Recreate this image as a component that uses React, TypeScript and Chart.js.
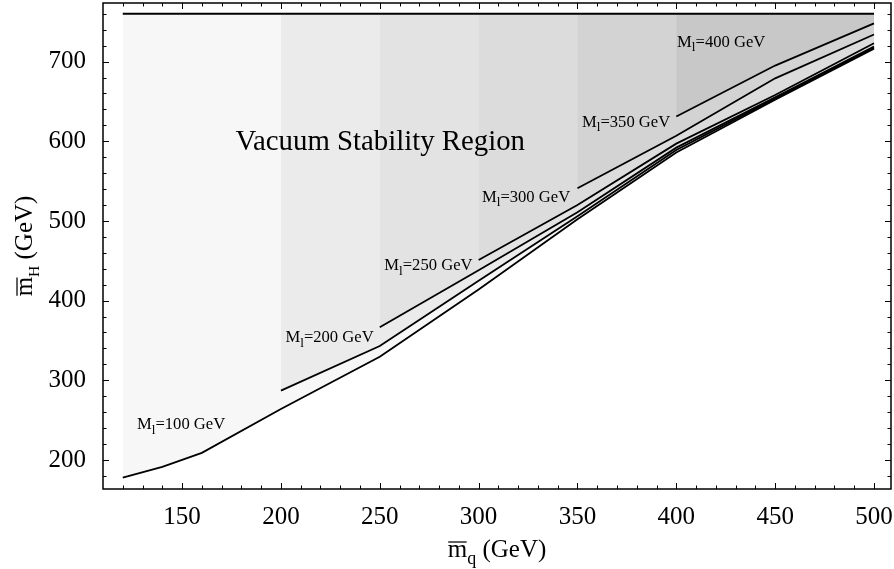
import React, { useEffect, useRef } from "react";
import { Chart, registerables } from "chart.js";

Chart.register(...registerables);

// ---------- data ----------
const X_MIN = 110;
const X_MAX = 508.6;
const Y_MIN = 163.6;
const Y_MAX = 773.5;

const X_TICKS = [150, 200, 250, 300, 350, 400, 450, 500];
const Y_TICKS = [200, 300, 400, 500, 600, 700];

// upper boundary of the region
const TOP_MQ = [120, 500];
const TOP_MH = [760, 760];

// lowest boundary curve
const MQ_LOW = [120, 140, 160, 200, 250, 300, 350, 400, 450, 500];
const MH_LOW = [178, 191.5, 209, 264, 329.5, 414, 502, 586, 652, 716];

// curves starting at 200, 250, 300, 350, 400 GeV
const MQ_200 = [200, 250, 300, 350, 400, 450, 500];
const MH_200 = [287, 343, 425, 506, 589, 653.5, 717.5];

const MQ_250 = [250, 300, 350, 400, 450, 500];
const MH_250 = [366.5, 438, 511, 592, 655, 719];

const MQ_300 = [300, 350, 400, 450, 500];
const MH_300 = [451, 520, 597, 658, 723];

const MQ_350 = [350, 400, 450, 500];
const MH_350 = [541, 607, 679, 734];

const MQ_400 = [400, 450, 500];
const MH_400 = [631, 695, 748];

const SHADES = ["#f7f7f7", "#ebebeb", "#e3e3e3", "#dcdcdc", "#d3d3d3", "#c8c8c8"];

// text annotations: [label mass, anchor mq, anchor mH (baseline)]
const LABEL_MASSES = ["100", "200", "250", "300", "350", "400"];
const LABEL_MQ = [127.2, 202.3, 252.3, 301.7, 352.3, 400.4];
const LABEL_MH = [238.3, 348, 438.4, 524, 618.2, 718.6];

const REGION_TEXT = "Vacuum Stability Region";
const REGION_MQ = 177;
const REGION_MH = 589;

const FAMILY = '"Liberation Serif", "Times New Roman", serif';

type Seg = { t: string; sub?: boolean; bar?: boolean };

function drawRich(
  ctx: CanvasRenderingContext2D,
  segs: Seg[],
  x: number,
  y: number,
  size: number,
  align: "left" | "center",
  subScale = 0.72
) {
  const widths = segs.map((s) => {
    ctx.font = `${s.sub ? size * subScale : size}px ${FAMILY}`;
    return ctx.measureText(s.t).width;
  });
  const total = widths.reduce((a, b) => a + b, 0);
  let cx = align === "center" ? x - total / 2 : x;
  ctx.textAlign = "left";
  ctx.textBaseline = "alphabetic";
  segs.forEach((s, i) => {
    ctx.font = `${s.sub ? size * subScale : size}px ${FAMILY}`;
    const dy = s.sub ? size * 0.27 : 0;
    ctx.fillText(s.t, cx, y + dy);
    if (s.bar) {
      ctx.save();
      ctx.lineWidth = Math.max(1, size * 0.05);
      ctx.beginPath();
      ctx.moveTo(cx + 0.5, y - size * 0.6);
      ctx.lineTo(cx + widths[i] - 0.5, y - size * 0.6);
      ctx.stroke();
      ctx.restore();
    }
    cx += widths[i];
  });
}

const toPts = (xs: number[], ys: number[]) => xs.map((x, i) => ({ x, y: ys[i] }));

const framePlugin = {
  id: "frameTicks",
  afterDatasetsDraw(chart: any) {
    const { ctx, chartArea: a, scales } = chart;
    const xs = scales.x;
    const ys = scales.y;
    ctx.save();
    ctx.strokeStyle = "#000";
    ctx.lineWidth = 1;
    for (let v = 120; v <= 500; v += 10) {
      const px = Math.round(xs.getPixelForValue(v)) + 0.5;
      const len = v % 50 === 0 ? 6 : 3.5;
      ctx.beginPath();
      ctx.moveTo(px, a.bottom);
      ctx.lineTo(px, a.bottom - len);
      ctx.moveTo(px, a.top);
      ctx.lineTo(px, a.top + len);
      ctx.stroke();
    }
    for (let v = 180; v <= 760; v += 20) {
      const py = Math.round(ys.getPixelForValue(v)) + 0.5;
      const len = v % 100 === 0 ? 6 : 3.5;
      ctx.beginPath();
      ctx.moveTo(a.left, py);
      ctx.lineTo(a.left + len, py);
      ctx.moveTo(a.right, py);
      ctx.lineTo(a.right - len, py);
      ctx.stroke();
    }
    ctx.lineWidth = 1.5;
    ctx.strokeRect(a.left, a.top, a.right - a.left, a.bottom - a.top);
    ctx.restore();
  },
  afterDraw(chart: any) {
    const { ctx, chartArea: a, scales } = chart;
    const xs = scales.x;
    const ys = scales.y;
    ctx.save();
    ctx.fillStyle = "#000";
    ctx.strokeStyle = "#000";
    LABEL_MASSES.forEach((m, i) => {
      drawRich(
        ctx,
        [{ t: "M" }, { t: "l", sub: true }, { t: "=" + m + " GeV" }],
        xs.getPixelForValue(LABEL_MQ[i]),
        ys.getPixelForValue(LABEL_MH[i]),
        16.6,
        "left",
        0.8
      );
    });
    ctx.font = `28.8px ${FAMILY}`;
    ctx.textAlign = "left";
    ctx.textBaseline = "alphabetic";
    ctx.fillText(REGION_TEXT, xs.getPixelForValue(REGION_MQ), ys.getPixelForValue(REGION_MH));
    drawRich(
      ctx,
      [{ t: "m", bar: true }, { t: "q", sub: true }, { t: " (GeV)" }],
      (a.left + a.right) / 2,
      557,
      25,
      "center"
    );
    ctx.translate(32, (a.top + a.bottom) / 2);
    ctx.rotate(-Math.PI / 2);
    drawRich(ctx, [{ t: "m", bar: true }, { t: "H", sub: true }, { t: " (GeV)" }], 0, 0, 25, "center", 0.62);
    ctx.restore();
  },
};

export default function App() {
  const ref = useRef<HTMLCanvasElement | null>(null);

  useEffect(() => {
    if (!ref.current) return;
    const curves = [
      { xs: MQ_LOW, ys: MH_LOW },
      { xs: MQ_200, ys: MH_200 },
      { xs: MQ_250, ys: MH_250 },
      { xs: MQ_300, ys: MH_300 },
      { xs: MQ_350, ys: MH_350 },
      { xs: MQ_400, ys: MH_400 },
    ];
    const datasets: any[] = curves.map((c, i) => ({
      data: toPts(c.xs, c.ys),
      borderColor: "#000",
      borderWidth: 1.8,
      backgroundColor: SHADES[i],
      fill: { value: TOP_MH[0] },
      pointRadius: 0,
      tension: 0,
      order: curves.length - i,
    }));
    datasets.push({
      data: toPts(TOP_MQ, TOP_MH),
      borderColor: "#000",
      borderWidth: 2,
      fill: false,
      pointRadius: 0,
      order: -1,
    });

    const tickFont = { family: FAMILY, size: 25 };
    const chart = new Chart(ref.current, {
      type: "line",
      data: { datasets },
      plugins: [framePlugin],
      options: {
        animation: false,
        responsive: false,
        devicePixelRatio: 1,
        layout: { padding: { top: 3, right: 3, left: 0, bottom: 0 } },
        plugins: {
          legend: { display: false },
          tooltip: { enabled: false },
          filler: { drawTime: "beforeDatasetsDraw" },
        } as any,
        scales: {
          x: {
            type: "linear",
            min: X_MIN,
            max: X_MAX,
            grid: { display: false, drawTicks: false },
            border: { display: false },
            ticks: { font: tickFont, color: "#000", padding: 13, maxRotation: 0, autoSkip: false },
            afterBuildTicks: (s: any) => {
              s.ticks = X_TICKS.map((v) => ({ value: v }));
            },
            afterFit: (s: any) => {
              s.height = 80;
              s.paddingLeft = 0;
              s.paddingRight = 0;
            },
          },
          y: {
            type: "linear",
            min: Y_MIN,
            max: Y_MAX,
            grid: { display: false, drawTicks: false },
            border: { display: false },
            ticks: { font: tickFont, color: "#000", padding: 17, autoSkip: false },
            afterBuildTicks: (s: any) => {
              s.ticks = Y_TICKS.map((v) => ({ value: v }));
            },
            afterFit: (s: any) => {
              s.width = 103;
              s.paddingTop = 0;
              s.paddingBottom = 0;
            },
          },
        },
      } as any,
    });
    return () => chart.destroy();
  }, []);

  return (
    <div style={{ position: "absolute", left: 0, top: 0, width: 894, height: 569, background: "#fff" }}>
      <canvas ref={ref} width={894} height={569} style={{ display: "block" }} />
    </div>
  );
}
